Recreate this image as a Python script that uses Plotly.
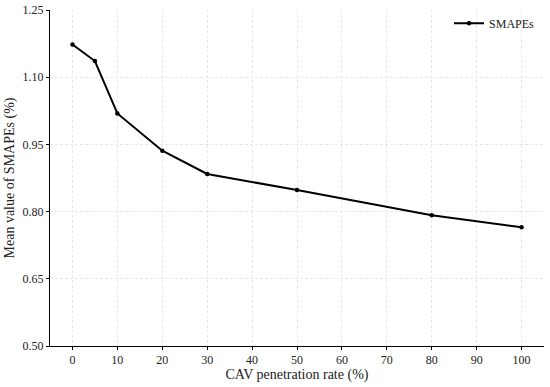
import plotly.graph_objects as go

penetration = [0, 5, 10, 20, 30, 50, 80, 100]
smapes = [1.173, 1.136, 1.019, 0.936, 0.884, 0.848, 0.792, 0.765]
x_ticks = [0, 10, 20, 30, 40, 50, 60, 70, 80, 90, 100]
y_ticks = [0.50, 0.65, 0.80, 0.95, 1.10, 1.25]

fig = go.Figure()
fig.add_trace(go.Scatter(
    x=penetration, y=smapes, mode="lines+markers", name="SMAPEs",
    line=dict(color="black", width=2), marker=dict(color="black", size=4.5),
))

font = "Liberation Serif, Times New Roman, serif"
fig.update_layout(
    width=550, height=387,
    margin=dict(l=50, r=6, t=10, b=41),
    paper_bgcolor="white", plot_bgcolor="white",
    font=dict(family=font, color="#222", size=12),
    showlegend=True,
    legend=dict(x=0.992, y=1.004, xanchor="right", yanchor="top",
                bgcolor="rgba(0,0,0,0)", font=dict(size=12, family=font)),
    xaxis=dict(
        range=[-5, 105], tickvals=x_ticks, ticktext=[str(v) for v in x_ticks],
        showline=True, linecolor="black", linewidth=1, mirror=False,
        ticks="outside", ticklen=3, tickcolor="black",
        showgrid=True, gridcolor="#e8e8e8", griddash="3px,2px", gridwidth=1,
        zeroline=False, tickfont=dict(size=12), automargin=False,
        title=dict(text="CAV penetration rate (%)", font=dict(size=14), standoff=0),
    ),
    yaxis=dict(
        range=[0.5, 1.25], tickvals=y_ticks, ticktext=[f"{v:.2f}" for v in y_ticks],
        showline=True, linecolor="black", linewidth=1, mirror=False,
        ticks="outside", ticklen=3, tickcolor="black",
        showgrid=True, gridcolor="#e8e8e8", griddash="3px,2px", gridwidth=1,
        zeroline=False, tickfont=dict(size=12), automargin=False,
        title=dict(text="Mean value of SMAPEs (%)", font=dict(size=14), standoff=4),
    ),
)

fig.write_html("out.html", config={"displayModeBar": False},
               post_script="document.body.style.margin='0';document.body.style.overflow='hidden';")
